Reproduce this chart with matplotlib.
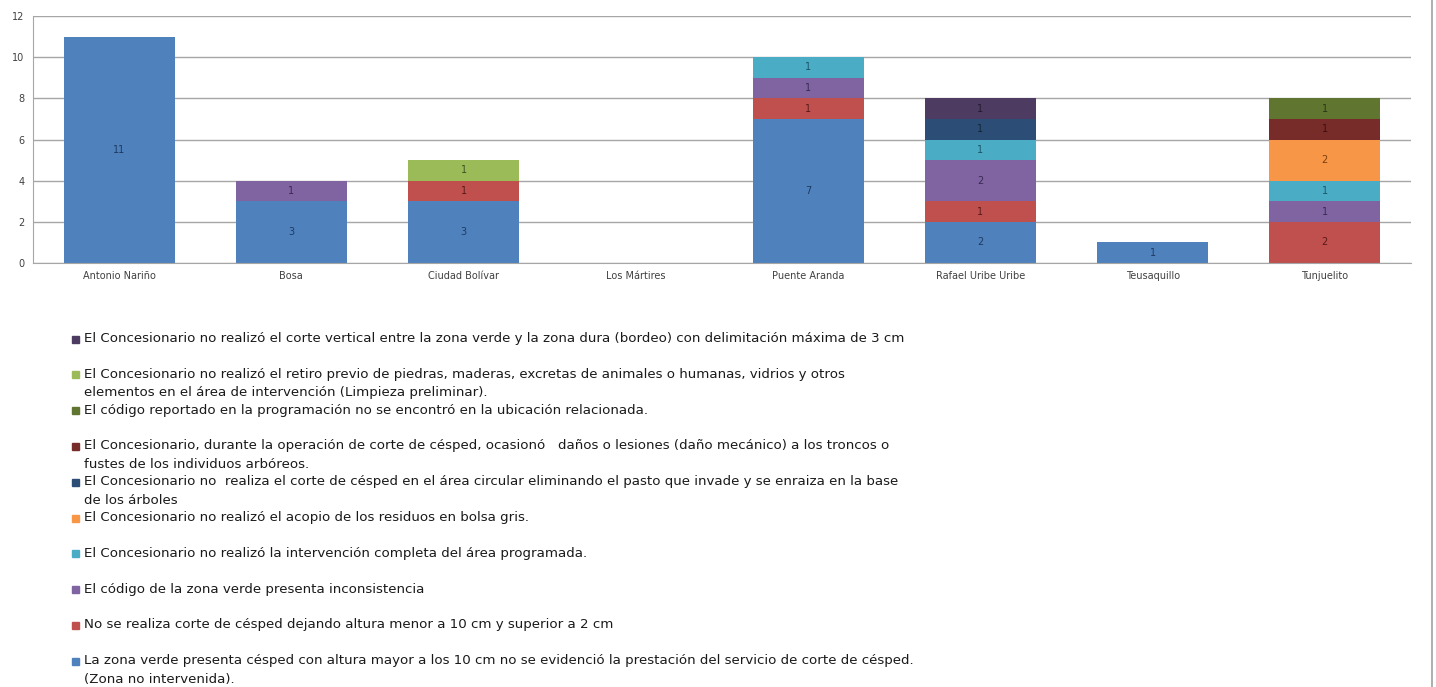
import matplotlib.pyplot as plt
import numpy as np
from matplotlib.patches import Rectangle
from matplotlib.lines import Line2D

# Localidades (eje x)
localidades = ['Antonio Nariño', 'Bosa', 'Ciudad Bolívar', 'Los Mártires',
               'Puente Aranda', 'Rafael Uribe Uribe', 'Teusaquillo', 'Tunjuelito']

# Series de hallazgos, de abajo hacia arriba en la pila
s_no_intervenida = [11, 3, 3, 0, 7, 2, 1, 0]
s_altura = [0, 0, 1, 0, 1, 1, 0, 2]
s_codigo_inconsistente = [0, 1, 0, 0, 1, 2, 0, 1]
s_intervencion_incompleta = [0, 0, 0, 0, 1, 1, 0, 1]
s_acopio = [0, 0, 0, 0, 0, 0, 0, 2]
s_area_circular = [0, 0, 0, 0, 0, 1, 0, 0]
s_danos = [0, 0, 0, 0, 0, 0, 0, 1]
s_codigo_no_encontrado = [0, 0, 0, 0, 0, 0, 0, 1]
s_retiro_previo = [0, 0, 1, 0, 0, 0, 0, 0]
s_corte_vertical = [0, 0, 0, 0, 0, 1, 0, 0]

series = [s_no_intervenida, s_altura, s_codigo_inconsistente, s_intervencion_incompleta,
          s_acopio, s_area_circular, s_danos, s_codigo_no_encontrado,
          s_retiro_previo, s_corte_vertical]

etiquetas = [
    'La zona verde presenta césped con altura mayor a los 10 cm no se evidenció la prestación del servicio de corte de césped.\n(Zona no intervenida).',
    'No se realiza corte de césped dejando altura menor a 10 cm y superior a 2 cm',
    'El código de la zona verde presenta inconsistencia',
    'El Concesionario no realizó la intervención completa del área programada.',
    'El Concesionario no realizó el acopio de los residuos en bolsa gris.',
    'El Concesionario no  realiza el corte de césped en el área circular eliminando el pasto que invade y se enraiza en la base\nde los árboles',
    'El Concesionario, durante la operación de corte de césped, ocasionó   daños o lesiones (daño mecánico) a los troncos o\nfustes de los individuos arbóreos.',
    'El código reportado en la programación no se encontró en la ubicación relacionada.',
    'El Concesionario no realizó el retiro previo de piedras, maderas, excretas de animales o humanas, vidrios y otros\nelementos en el área de intervención (Limpieza preliminar).',
    'El Concesionario no realizó el corte vertical entre la zona verde y la zona dura (bordeo) con delimitación máxima de 3 cm',
]

colores = ['#4F81BD', '#C0504D', '#8064A2', '#4BACC6', '#F79646',
           '#2C4D75', '#772C2A', '#5F7530', '#9BBB59', '#4D3B62']
colores_txt = ['#1F3A60', '#5A1A18', '#3A2A52', '#1C5566', '#7A3E0A',
               '#14253A', '#3A1010', '#2C3816', '#3E5220', '#221A30']

plt.rcParams['font.family'] = ['Liberation Sans Narrow', 'DejaVu Sans']

fig = plt.figure(figsize=(14.36, 6.87), dpi=100)
W, H = 1436, 687
ax = fig.add_axes([33 / W, 1 - 263 / H, (1411 - 33) / W, (263 - 16) / H])

x = np.arange(len(localidades))
base = np.zeros(len(localidades))
for vals, col, tcol in zip(series, colores, colores_txt):
    vals = np.array(vals, dtype=float)
    ax.bar(x, vals, bottom=base, width=0.645, color=col, zorder=2)
    for xi, v, b in zip(x, vals, base):
        if v > 0:
            ax.text(xi, b + v / 2, f'{int(v)}', ha='center', va='center',
                    fontsize=7, color=tcol, zorder=3)
    base += vals

ax.set_xlim(-0.5, len(localidades) - 0.5)
ax.set_ylim(0, 12)
ax.set_yticks(range(0, 13, 2))
ax.set_xticks(x)
ax.set_xticklabels(localidades)
ax.tick_params(axis='both', length=0, labelsize=7, colors='#404040', pad=6)
ax.yaxis.grid(True, color='#A6A6A6', linewidth=1, zorder=0)
for s in ['top', 'right']:
    ax.spines[s].set_visible(False)
for s in ['left', 'bottom']:
    ax.spines[s].set_color('#A6A6A6')

# borde derecho del gráfico
fig.add_artist(Line2D([1432 / W, 1432 / W], [0, 1], color='#A0A0A0', linewidth=1.2))

# leyenda manual (orden inverso)
y0 = 339
paso = 35.8
for i, k in enumerate(range(len(series) - 1, -1, -1)):
    yy = y0 + i * paso
    fig.add_artist(Rectangle((72 / W, 1 - (yy + 3.5) / H), 7 / W, 7 / H,
                             color=colores[k], transform=fig.transFigure))
    fig.text(84 / W, 1 - (yy - 7) / H, etiquetas[k], ha='left', va='top',
             fontsize=9.6, color='#1a1a1a', linespacing=1.55)

fig.savefig('out.png', dpi=100)
